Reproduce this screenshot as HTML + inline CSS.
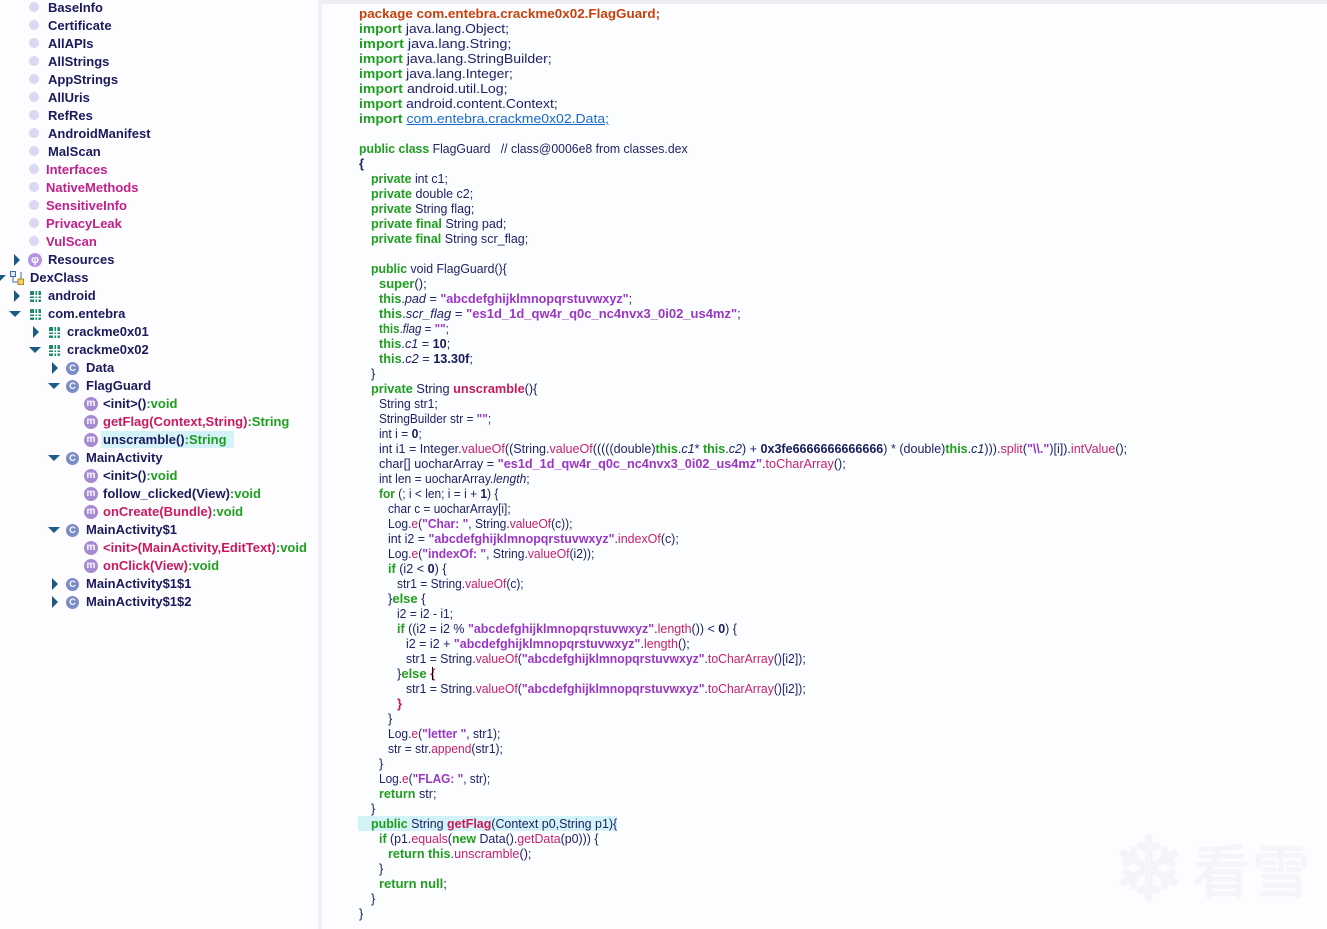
<!DOCTYPE html>
<html><head><meta charset="utf-8">
<style>
html,body{margin:0;padding:0;}
body{width:1327px;height:929px;position:relative;overflow:hidden;background:#fcfdff;font-family:"Liberation Sans",Arial,sans-serif;}
#left{position:absolute;left:0;top:0;width:318px;height:929px;background:#fdfdff;}
#sep{position:absolute;left:318px;top:0;width:4px;height:929px;background:#eef0f4;}
#topbar{position:absolute;left:322px;top:0;width:1005px;height:4px;background:#eceef2;}
.r{position:absolute;height:16px;line-height:16px;white-space:pre;font-size:13px;font-weight:bold;color:#1a1a5c;}
.mg{color:#c0208a;}
.cr{color:#c81a5e;}
.gv{color:#1f9e1f;}
.bul{position:absolute;width:10px;height:10px;border-radius:50%;background:#dcd8f4;}
.ar{position:absolute;width:0;height:0;border-top:6px solid transparent;border-bottom:6px solid transparent;border-left:6px solid #1d5b86;}
.ad{position:absolute;width:0;height:0;border-left:6px solid transparent;border-right:6px solid transparent;border-top:6px solid #1d5b86;}
.pk{position:absolute;width:11px;height:11px;background:
 linear-gradient(#fdfdff,#fdfdff) 0 4px/11px 1.5px no-repeat,
 linear-gradient(#fdfdff,#fdfdff) 0 7px/11px 1.5px no-repeat,
 linear-gradient(90deg,#fdfdff,#fdfdff) 4px 0/1.5px 11px no-repeat,
 linear-gradient(90deg,#fdfdff,#fdfdff) 7px 0/1.5px 11px no-repeat,#178a68;border-radius:1px;}
.ci{position:absolute;width:13px;height:13px;border-radius:50%;background:#7c8cc8;color:#fff;font-size:9px;font-weight:bold;text-align:center;line-height:13px;}
.mi{position:absolute;width:14px;height:14px;border-radius:50%;background:#a68ad0;color:#fff;font-size:10px;font-weight:bold;text-align:center;line-height:13px;}
.c{position:absolute;height:16px;line-height:16px;white-space:pre;font-size:13px;color:#1e2266;transform-origin:0 0;}
.k{color:#1f9e1f;font-weight:bold;}
.p{color:#c8400c;font-weight:bold;}
.s{color:#9b36c4;font-weight:bold;}
.m{color:#c8206e;}
.mb{color:#c81a5a;font-weight:bold;}
.n{color:#141a5a;font-weight:bold;}
.i{font-style:italic;}
.b{font-weight:bold;}
a{color:#1a6acc;text-decoration:underline;}
.hl{position:absolute;background:#d3f3f8;}
#wm{position:absolute;left:1112px;top:826px;width:210px;height:90px;}
</style></head><body>
<div id="left"></div>
<div id="sep"></div>
<div id="topbar"></div>

<!-- tree -->
<div class="bul" style="left:29px;top:2px"></div><div class="r" style="left:48px;top:0px">BaseInfo</div>
<div class="bul" style="left:29px;top:20px"></div><div class="r" style="left:48px;top:18px">Certificate</div>
<div class="bul" style="left:29px;top:38px"></div><div class="r" style="left:48px;top:36px">AllAPIs</div>
<div class="bul" style="left:29px;top:56px"></div><div class="r" style="left:48px;top:54px">AllStrings</div>
<div class="bul" style="left:29px;top:74px"></div><div class="r" style="left:48px;top:72px">AppStrings</div>
<div class="bul" style="left:29px;top:92px"></div><div class="r" style="left:48px;top:90px">AllUris</div>
<div class="bul" style="left:29px;top:110px"></div><div class="r" style="left:48px;top:108px">RefRes</div>
<div class="bul" style="left:29px;top:128px"></div><div class="r" style="left:48px;top:126px">AndroidManifest</div>
<div class="bul" style="left:29px;top:146px"></div><div class="r" style="left:48px;top:144px">MalScan</div>
<div class="bul" style="left:29px;top:164px"></div><div class="r mg" style="left:46px;top:162px">Interfaces</div>
<div class="bul" style="left:29px;top:182px"></div><div class="r mg" style="left:46px;top:180px">NativeMethods</div>
<div class="bul" style="left:29px;top:200px"></div><div class="r mg" style="left:46px;top:198px">SensitiveInfo</div>
<div class="bul" style="left:29px;top:218px"></div><div class="r mg" style="left:46px;top:216px">PrivacyLeak</div>
<div class="bul" style="left:29px;top:236px"></div><div class="r mg" style="left:46px;top:234px">VulScan</div>

<div class="ar" style="left:14px;top:254px"></div>
<div style="position:absolute;left:28px;top:253px;width:14px;height:14px;border-radius:50%;background:#b393e6;color:#fff;font-size:11px;line-height:14px;text-align:center;font-weight:bold;">φ</div>
<div class="r" style="left:48px;top:252px">Resources</div>

<div class="ad" style="left:-6px;top:275px"></div>
<svg style="position:absolute;left:10px;top:271px" width="14" height="14"><rect x="0.5" y="0.5" width="5" height="5" fill="#dfe8f5" stroke="#3b6ea8"/><rect x="8" y="8" width="5.5" height="5.5" fill="#f5d26a" stroke="#b08a20"/><path d="M3 6 V11 H8 M11 1 V8" stroke="#3b6ea8" fill="none"/></svg>
<div class="r" style="left:30px;top:270px">DexClass</div>

<div class="ar" style="left:14px;top:290px"></div><div class="pk" style="left:30px;top:291px"></div><div class="r" style="left:48px;top:288px">android</div>
<div class="ad" style="left:9px;top:311px"></div><div class="pk" style="left:30px;top:309px"></div><div class="r" style="left:48px;top:306px">com.entebra</div>
<div class="ar" style="left:33px;top:326px"></div><div class="pk" style="left:49px;top:327px"></div><div class="r" style="left:67px;top:324px">crackme0x01</div>
<div class="ad" style="left:29px;top:347px"></div><div class="pk" style="left:49px;top:345px"></div><div class="r" style="left:67px;top:342px">crackme0x02</div>
<div class="ar" style="left:52px;top:362px"></div><div class="ci" style="left:66px;top:362px">C</div><div class="r" style="left:86px;top:360px">Data</div>
<div class="ad" style="left:48px;top:383px"></div><div class="ci" style="left:66px;top:380px">C</div><div class="r" style="left:86px;top:378px">FlagGuard</div>
<div class="mi" style="left:84px;top:397px">m</div><div class="r" style="left:103px;top:396px">&lt;init&gt;()<span class="gv">:void</span></div>
<div class="mi" style="left:84px;top:415px">m</div><div class="r cr" style="left:103px;top:414px">getFlag(Context,String)<span class="gv">:String</span></div>
<div class="hl" style="left:101px;top:431px;width:133px;height:17px"></div>
<div class="mi" style="left:84px;top:433px">m</div><div class="r" style="left:103px;top:432px">unscramble()<span class="gv">:String</span></div>
<div class="ad" style="left:48px;top:455px"></div><div class="ci" style="left:66px;top:452px">C</div><div class="r" style="left:86px;top:450px">MainActivity</div>
<div class="mi" style="left:84px;top:469px">m</div><div class="r" style="left:103px;top:468px">&lt;init&gt;()<span class="gv">:void</span></div>
<div class="mi" style="left:84px;top:487px">m</div><div class="r" style="left:103px;top:486px">follow_clicked(View)<span class="gv">:void</span></div>
<div class="mi" style="left:84px;top:505px">m</div><div class="r cr" style="left:103px;top:504px">onCreate(Bundle)<span class="gv">:void</span></div>
<div class="ad" style="left:48px;top:527px"></div><div class="ci" style="left:66px;top:524px">C</div><div class="r" style="left:86px;top:522px">MainActivity$1</div>
<div class="mi" style="left:84px;top:541px">m</div><div class="r cr" style="left:103px;top:540px">&lt;init&gt;(MainActivity,EditText)<span class="gv">:void</span></div>
<div class="mi" style="left:84px;top:559px">m</div><div class="r cr" style="left:103px;top:558px">onClick(View)<span class="gv">:void</span></div>
<div class="ar" style="left:52px;top:578px"></div><div class="ci" style="left:66px;top:578px">C</div><div class="r" style="left:86px;top:576px">MainActivity$1$1</div>
<div class="ar" style="left:52px;top:596px"></div><div class="ci" style="left:66px;top:596px">C</div><div class="r" style="left:86px;top:594px">MainActivity$1$2</div>

<!-- code -->
<div class="hl" style="left:358px;top:816px;width:259px;height:15px"></div>
<div class="c" style="left:359px;top:6px;transform:scaleX(1.034)"><span class="p">package com.entebra.crackme0x02.FlagGuard;</span></div>
<div class="c" style="left:359px;top:21px;transform:scaleX(1.064)"><span class="k">import</span> java.lang.Object;</div>
<div class="c" style="left:359px;top:36px;transform:scaleX(1.11)"><span class="k">import</span> java.lang.String;</div>
<div class="c" style="left:359px;top:51px;transform:scaleX(1.084)"><span class="k">import</span> java.lang.StringBuilder;</div>
<div class="c" style="left:359px;top:66px;transform:scaleX(1.07)"><span class="k">import</span> java.lang.Integer;</div>
<div class="c" style="left:359px;top:81px;transform:scaleX(1.088)"><span class="k">import</span> android.util.Log;</div>
<div class="c" style="left:359px;top:96px;transform:scaleX(1.07)"><span class="k">import</span> android.content.Context;</div>
<div class="c" style="left:359px;top:111px;transform:scaleX(1.078)"><span class="k">import</span> <a>com.entebra.crackme0x02.Data;</a></div>
<div class="c" style="left:359px;top:141px;transform:scaleX(0.943)"><span class="k">public class</span> FlagGuard   // class@0006e8 from classes.dex</div>
<div class="c" style="left:359px;top:156px"><span class="b">{</span></div>
<div class="c" style="left:371px;top:171px;transform:scaleX(0.95)"><span class="k">private</span> int c1;</div>
<div class="c" style="left:371px;top:186px;transform:scaleX(0.962)"><span class="k">private</span> double c2;</div>
<div class="c" style="left:371px;top:201px;transform:scaleX(0.953)"><span class="k">private</span> String flag;</div>
<div class="c" style="left:371px;top:216px;transform:scaleX(0.971)"><span class="k">private final</span> String pad;</div>
<div class="c" style="left:371px;top:231px;transform:scaleX(0.963)"><span class="k">private final</span> String scr_flag;</div>
<div class="c" style="left:371px;top:261px;transform:scaleX(0.944)"><span class="k">public</span> void FlagGuard(){</div>
<div class="c" style="left:379px;top:276px"><span class="k">super</span>();</div>
<div class="c" style="left:379px;top:291px;transform:scaleX(0.969)"><span class="k">this</span>.<span class="i">pad</span> = <span class="s">"abcdefghijklmnopqrstuvwxyz"</span>;</div>
<div class="c" style="left:379px;top:306px"><span class="k">this</span>.<span class="i">scr_flag</span> = <span class="s">"es1d_1d_qw4r_q0c_nc4nvx3_0i02_us4mz"</span>;</div>
<div class="c" style="left:379px;top:321px;transform:scaleX(0.89)"><span class="k">this</span>.<span class="i">flag</span> = <span class="s">""</span>;</div>
<div class="c" style="left:379px;top:336px;transform:scaleX(0.97)"><span class="k">this</span>.<span class="i">c1</span> = <span class="n">10</span>;</div>
<div class="c" style="left:379px;top:351px;transform:scaleX(0.98)"><span class="k">this</span>.<span class="i">c2</span> = <span class="n">13.30f</span>;</div>
<div class="c" style="left:371px;top:366px">}</div>
<div class="c" style="left:371px;top:381px;transform:scaleX(0.98)"><span class="k">private</span> String <span class="mb">unscramble</span>(){</div>
<div class="c" style="left:379px;top:396px;transform:scaleX(0.935)">String str1;</div>
<div class="c" style="left:379px;top:411px;transform:scaleX(0.91)">StringBuilder str = <span class="s">""</span>;</div>
<div class="c" style="left:379px;top:426px;transform:scaleX(0.93)">int i = <span class="n">0</span>;</div>
<div class="c" style="left:379px;top:441px;transform:scaleX(0.965)">int i1 = Integer.<span class="m">valueOf</span>((String.<span class="m">valueOf</span>(((((double)<span class="k">this</span>.<span class="i">c1</span>* <span class="k">this</span>.<span class="i">c2</span>) + <span class="n">0x3fe6666666666666</span>) * (double)<span class="k">this</span>.<span class="i">c1</span>))).<span class="m">split</span>(<span class="s">"\\."</span>)[i]).<span class="m">intValue</span>();</div>
<div class="c" style="left:379px;top:456px;transform:scaleX(0.975)">char[] uocharArray = <span class="s">"es1d_1d_qw4r_q0c_nc4nvx3_0i02_us4mz"</span>.<span class="m">toCharArray</span>();</div>
<div class="c" style="left:379px;top:471px;transform:scaleX(0.93)">int len = uocharArray.<span class="i">length</span>;</div>
<div class="c" style="left:379px;top:486px;transform:scaleX(0.92)"><span class="k">for</span> (; i &lt; len; i = i + <span class="n">1</span>) {</div>
<div class="c" style="left:388px;top:501px;transform:scaleX(0.91)">char c = uocharArray[i];</div>
<div class="c" style="left:388px;top:516px;transform:scaleX(0.925)">Log.<span class="m">e</span>(<span class="s">"Char: "</span>, String.<span class="m">valueOf</span>(c));</div>
<div class="c" style="left:388px;top:531px;transform:scaleX(0.957)">int i2 = <span class="s">"abcdefghijklmnopqrstuvwxyz"</span>.<span class="m">indexOf</span>(c);</div>
<div class="c" style="left:388px;top:546px;transform:scaleX(0.93)">Log.<span class="m">e</span>(<span class="s">"indexOf: "</span>, String.<span class="m">valueOf</span>(i2));</div>
<div class="c" style="left:388px;top:561px;transform:scaleX(0.97)"><span class="k">if</span> (i2 &lt; <span class="n">0</span>) {</div>
<div class="c" style="left:397px;top:576px;transform:scaleX(0.92)">str1 = String.<span class="m">valueOf</span>(c);</div>
<div class="c" style="left:388px;top:591px">}<span class="k">else</span> {</div>
<div class="c" style="left:397px;top:606px;transform:scaleX(0.93)">i2 = i2 - i1;</div>
<div class="c" style="left:397px;top:621px;transform:scaleX(0.958)"><span class="k">if</span> ((i2 = i2 % <span class="s">"abcdefghijklmnopqrstuvwxyz"</span>.<span class="m">length</span>()) &lt; <span class="n">0</span>) {</div>
<div class="c" style="left:406px;top:636px;transform:scaleX(0.96)">i2 = i2 + <span class="s">"abcdefghijklmnopqrstuvwxyz"</span>.<span class="m">length</span>();</div>
<div class="c" style="left:406px;top:651px;transform:scaleX(0.94)">str1 = String.<span class="m">valueOf</span>(<span class="s">"abcdefghijklmnopqrstuvwxyz"</span>.<span class="m">toCharArray</span>()[i2]);</div>
<div class="c" style="left:397px;top:666px">}<span class="k">else</span> <span class="mb">{</span><span style="display:inline-block;width:1px;height:13px;background:#000;vertical-align:-2px;margin-left:-3px"></span></div>
<div class="c" style="left:406px;top:681px;transform:scaleX(0.94)">str1 = String.<span class="m">valueOf</span>(<span class="s">"abcdefghijklmnopqrstuvwxyz"</span>.<span class="m">toCharArray</span>()[i2]);</div>
<div class="c" style="left:397px;top:696px"><span class="mb">}</span></div>
<div class="c" style="left:388px;top:711px">}</div>
<div class="c" style="left:388px;top:726px;transform:scaleX(0.925)">Log.<span class="m">e</span>(<span class="s">"letter "</span>, str1);</div>
<div class="c" style="left:388px;top:741px;transform:scaleX(0.927)">str = str.<span class="m">append</span>(str1);</div>
<div class="c" style="left:379px;top:756px">}</div>
<div class="c" style="left:379px;top:771px;transform:scaleX(0.91)">Log.<span class="m">e</span>(<span class="s">"FLAG: "</span>, str);</div>
<div class="c" style="left:379px;top:786px;transform:scaleX(0.97)"><span class="k">return</span> str;</div>
<div class="c" style="left:371px;top:801px">}</div>
<div class="c" style="left:371px;top:816px;transform:scaleX(0.957)"><span class="k">public</span> String <span class="mb">getFlag</span>(Context p0,String p1){</div>
<div class="c" style="left:379px;top:831px;transform:scaleX(0.952)"><span class="k">if</span> (p1.<span class="m">equals</span>(<span class="k">new</span> Data().<span class="m">getData</span>(p0))) {</div>
<div class="c" style="left:388px;top:846px;transform:scaleX(0.973)"><span class="k">return this</span>.<span class="m">unscramble</span>();</div>
<div class="c" style="left:379px;top:861px">}</div>
<div class="c" style="left:379px;top:876px"><span class="k">return null</span>;</div>
<div class="c" style="left:371px;top:891px">}</div>
<div class="c" style="left:359px;top:906px">}</div>

<!-- watermark -->
<div id="wm">
<div style="position:absolute;left:0;top:-6px;font-size:88px;line-height:100px;color:#f4f5f8;text-shadow:0 0 2px #e3e6ea;">❄</div>
<div style="position:absolute;left:80px;top:6px;font-family:'Noto Sans CJK SC',sans-serif;font-weight:300;font-size:58px;line-height:72px;color:#f5f6f8;text-shadow:0 0 2px #e2e5e9;letter-spacing:2px;">看雪</div>
</div>
</body></html>
